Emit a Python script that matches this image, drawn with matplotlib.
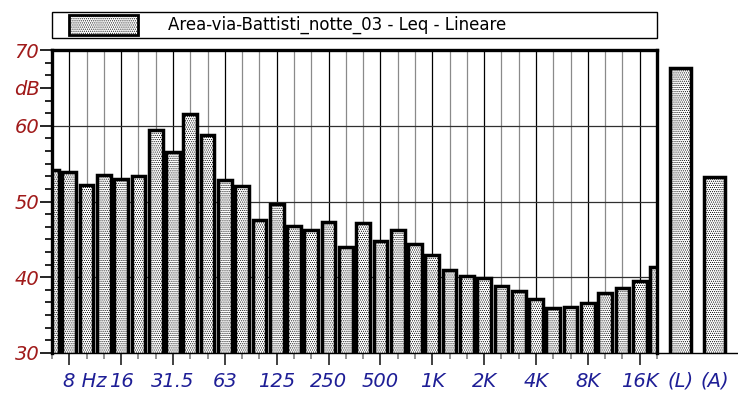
import matplotlib
matplotlib.use("Agg")
import matplotlib.pyplot as plt
from matplotlib.patches import Rectangle
from matplotlib.transforms import ScaledTranslation
import numpy as np

# third-octave bands 6.3 Hz .. 20 kHz
bands = ["6.3", "8", "10", "12.5", "16", "20", "25", "31.5", "40", "50", "63", "80",
         "100", "125", "160", "200", "250", "315", "400", "500", "630", "800",
         "1K", "1.25K", "1.6K", "2K", "2.5K", "3.15K", "4K", "5K", "6.3K", "8K",
         "10K", "12.5K", "16K", "20K"]
leq = [54.1, 53.9, 52.2, 53.5, 53.0, 53.4, 59.5, 56.6, 61.5, 58.8, 52.9, 52.1,
       47.5, 49.7, 46.7, 46.2, 47.3, 44.0, 47.1, 44.8, 46.3, 44.4,
       43.0, 41.0, 40.2, 39.9, 38.9, 38.2, 37.1, 35.9, 36.1, 36.6,
       37.9, 38.6, 39.5, 41.4]
octave_labels = {"8": "8 Hz", "16": "16", "31.5": "31.5", "63": "63", "125": "125",
                 "250": "250", "500": "500", "1K": "1K", "2K": "2K", "4K": "4K",
                 "8K": "8K", "16K": "16K"}
totals_lbl = ["(L)", "(A)"]
totals = [67.6, 53.2]
legend_txt = "Area-via-Battisti_notte_03 - Leq - Lineare"

RED = "#a01a1a"
BLUE = "#1e1e96"
HATCH = "........"
plt.rcParams["hatch.linewidth"] = 0.5

W, H = 738, 396
fig = plt.figure(figsize=(W / 100, H / 100), dpi=100)
fig.patch.set_facecolor("white")

def px(l, b, r, t):
    return [l / W, 1 - b / H, (r - l) / W, (b - t) / H]

ax = fig.add_axes(px(52, 353, 657, 50))
x = np.arange(len(bands))
oct_idx = [i for i, b in enumerate(bands) if b in octave_labels]
min_idx = [i for i in x if i not in oct_idx]

# grid
for i in x:
    ax.axvline(i, color="black" if i in oct_idx else "#8a8a8a", lw=0.9, zorder=0)
for yv in (40, 50, 60):
    ax.axhline(yv, color="#303030", lw=0.9, zorder=0)

ax.bar(x, leq, width=0.8, bottom=0, color="white", edgecolor="black",
       linewidth=2.5, hatch=HATCH, zorder=2)
ax.set_xlim(0, len(bands) - 1)
ax.set_ylim(30, 70)

ax.set_xticks(oct_idx)
ax.set_xticklabels([octave_labels[bands[i]] for i in oct_idx])
ax.set_xticks(min_idx, minor=True)
ax.tick_params(axis="x", which="major", direction="out", length=8.6, width=1.2,
               color="#202020", pad=5, labelsize=14, labelcolor=BLUE)
ax.tick_params(axis="x", which="minor", direction="out", length=4.2, width=1.2,
               color="#808080")
for t in ax.get_xticklabels():
    t.set_fontstyle("italic")
lab0 = ax.get_xticklabels()[0]
lab0.set_ha("left")
lab0.set_transform(lab0.get_transform() + ScaledTranslation(-6 / 100, 0, fig.dpi_scale_trans))

ax.set_yticks([30, 40, 50, 60, 65, 70])
ax.set_yticklabels(["30", "40", "50", "60", "dB", "70"])
ax.set_yticks(np.arange(30, 70.01, 10 / 6), minor=True)
ax.tick_params(axis="y", which="major", direction="out", length=8.6, width=1.2,
               color="black", pad=0.5, labelsize=14, labelcolor=RED)
ax.tick_params(axis="y", which="minor", direction="out", length=5, width=1.2,
               color="black")
for t in ax.get_yticklabels():
    t.set_fontstyle("italic")

for side in ("left", "top", "right"):
    ax.spines[side].set_linewidth(2.4)
ax.spines["bottom"].set_linewidth(1.0)
ax.set_axisbelow(True)

# overall levels
ax2 = fig.add_axes(px(657, 353, 738, 50))
ax2.bar(range(len(totals)), totals, width=0.62, color="white", edgecolor="black",
        linewidth=2.5, hatch=HATCH, zorder=2)
ax2.set_xlim(-0.676, 1.676)
ax2.set_ylim(30, 70)
ax2.set_yticks([])
ax2.set_xticks(range(len(totals)))
ax2.set_xticklabels(totals_lbl)
ax2.tick_params(axis="x", length=8.6, color="none", pad=5, labelsize=14, labelcolor=BLUE)
for t in ax2.get_xticklabels():
    t.set_fontstyle("italic")
for side in ("left", "top", "right"):
    ax2.spines[side].set_visible(False)
ax2.spines["bottom"].set_linewidth(1.0)
ax2.patch.set_alpha(0)

# legend box
fig.add_artist(Rectangle((52 / W, 1 - 38 / H), 605 / W, 26 / H, transform=fig.transFigure,
                         facecolor="white", edgecolor="black", lw=1.0))
fig.add_artist(Rectangle((69 / W, 1 - 35 / H), 69 / W, 20 / H, transform=fig.transFigure,
                         facecolor="white", edgecolor="black", lw=2.0, hatch=HATCH))
fig.text(168 / W, 1 - 25 / H, legend_txt, fontsize=12, va="center", ha="left", color="black")

fig.savefig("out.png", dpi=100, facecolor="white")
